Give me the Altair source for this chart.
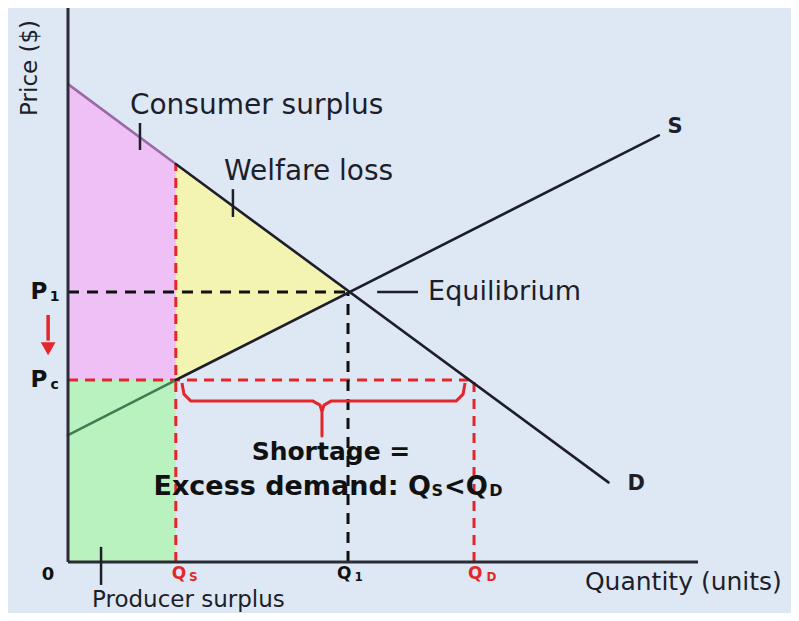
import altair as alt
import pandas as pd

# ---- values (quantity units / price units) ----
demand_q = [0.0, 3.85, 19.3]
demand_p = [17.7, 14.74, 2.95]
supply_q = [0.0, 3.85, 21.1]
supply_p = [4.7, 6.74, 15.8]
Q_S, Q_1, Q_D = 3.85, 10.0, 14.5
P_1, P_C = 10.0, 6.74
Q_D_AT_PC = 14.3

X_DOMAIN = [-2.143, 25.82]
Y_DOMAIN = [-1.889, 20.52]

BG = "#dde8f4"
DARK = "#1e1e2a"
RED = "#e3262b"
FONT = "DejaVu Sans"

xs = alt.Scale(domain=X_DOMAIN, zero=False, nice=False)
ys = alt.Scale(domain=Y_DOMAIN, zero=False, nice=False)


def X(f="x"):
    return alt.X(f, type="quantitative", scale=xs, axis=None)


def Y(f="y"):
    return alt.Y(f, type="quantitative", scale=ys, axis=None)


def X2(f="x2"):
    return alt.X2(f)


def Y2(f="y2"):
    return alt.Y2(f)


# ---- shaded areas ----
cs = pd.DataFrame({"x": [0.0, Q_S], "y": [demand_p[0], demand_p[1]], "y2": [P_C, P_C]})
wl = pd.DataFrame({"x": [Q_S, Q_1], "y": [demand_p[1], P_1], "y2": [P_C, P_1]})
ps = pd.DataFrame({"x": [0.0, Q_S], "y": [P_C, P_C], "y2": [0.0, 0.0]})


def area(df, col):
    return alt.Chart(df).mark_area(color=col, opacity=1).encode(x=X(), y=Y(), y2=Y2())


areas = [area(cs, "#efc0f6"), area(wl, "#f3f4b2"), area(ps, "#b9f2be")]

# ---- curves (segments) ----
curves = pd.DataFrame({
    "x": [demand_q[0], demand_q[1], supply_q[0], supply_q[1]],
    "y": [demand_p[0], demand_p[1], supply_p[0], supply_p[1]],
    "x2": [demand_q[1], demand_q[2], supply_q[1], supply_q[2]],
    "y2": [demand_p[1], demand_p[2], supply_p[1], supply_p[2]],
    "c": ["#9b6aa3", DARK, "#3f7d55", DARK],
})
curve_layer = alt.Chart(curves).mark_rule(strokeWidth=2.6, strokeCap="round").encode(
    x=X(), y=Y(), x2=X2(), y2=Y2(), color=alt.Color("c:N", scale=None))

# ---- axes ----
axes = pd.DataFrame({"x": [0.0, 0.0], "y": [0.0, 0.0], "x2": [0.0, 22.5], "y2": [20.6, 0.0]})
axes_layer = alt.Chart(axes).mark_rule(strokeWidth=3, color="#2b2b36").encode(
    x=X(), y=Y(), x2=X2(), y2=Y2())

# ---- dashed guides ----
bdash = pd.DataFrame({"x": [0.0, Q_1], "y": [P_1, 0.0], "x2": [Q_1, Q_1], "y2": [P_1, P_1]})
bdash_layer = alt.Chart(bdash).mark_rule(strokeWidth=3, color="#111", strokeDash=[11, 8]).encode(
    x=X(), y=Y(), x2=X2(), y2=Y2())
rdash = pd.DataFrame({"x": [0.0, Q_S, Q_D], "y": [P_C, 0.0, 0.0],
                      "x2": [Q_D_AT_PC, Q_S, Q_D], "y2": [P_C, demand_p[1], P_C]})
rdash_layer = alt.Chart(rdash).mark_rule(strokeWidth=3, color=RED, strokeDash=[10, 7]).encode(
    x=X(), y=Y(), x2=X2(), y2=Y2())

# ---- leader ticks ----
ticks = pd.DataFrame({
    "x": [2.57, 5.89, 1.18, 11.04],
    "y": [16.26, 13.81, 0.56, 10.0],
    "x2": [2.57, 5.89, 1.18, 12.5],
    "y2": [15.26, 12.78, -0.85, 10.0],
})
tick_layer = alt.Chart(ticks).mark_rule(strokeWidth=2.5, color=DARK).encode(
    x=X(), y=Y(), x2=X2(), y2=Y2())

# ---- shortage brace ----
brace_q = [4.07, 4.14, 4.39, 8.75, 9.0, 9.07, 9.07, 9.07, 9.14, 9.39, 13.86, 14.11, 14.18]
brace_p = [6.63, 6.22, 5.96, 5.96, 5.81, 5.56, 4.67, 5.56, 5.81, 5.96, 5.96, 6.22, 6.63]
brace = pd.DataFrame({"x": brace_q, "y": brace_p, "o": list(range(len(brace_q)))})
brace_layer = alt.Chart(brace).mark_line(color=RED, strokeWidth=3, strokeJoin="round").encode(
    x=X(), y=Y(), order="o:Q")

# ---- price-control arrow ----
arrow = pd.DataFrame({"x": [-0.71], "y": [9.15], "x2": [-0.71], "y2": [8.2]})
arrow_layer = alt.Chart(arrow).mark_rule(strokeWidth=3.5, color=RED).encode(
    x=X(), y=Y(), x2=X2(), y2=Y2())
head = pd.DataFrame({"x": [-0.71], "y": [7.9]})
head_layer = alt.Chart(head).mark_point(shape="triangle-down", filled=True, color=RED,
                                        size=220, opacity=1).encode(x=X(), y=Y())

# ---- texts ----
reg_labels = pd.DataFrame({
    "t": ["Consumer surplus", "Welfare loss", "Equilibrium", "Quantity (units)", "Producer surplus"],
    "x": [2.21, 5.57, 12.86, 18.46, 0.857],
    "y": [16.89, 14.44, 10.0, -0.74, -1.41],
    "s": [28, 28, 27, 25, 23],
})
reg_layer = alt.Chart(reg_labels).mark_text(align="left", baseline="middle", font=FONT,
                                            color=DARK).encode(
    x=X(), y=Y(), text="t:N", size=alt.Size("s:Q", scale=None))

price_lbl = pd.DataFrame({"t": ["Price ($)"], "x": [-1.36], "y": [18.3]})
price_layer = alt.Chart(price_lbl).mark_text(align="center", baseline="middle", font=FONT,
                                             color=DARK, angle=270, fontSize=23).encode(
    x=X(), y=Y(), text="t:N")

bold_c = pd.DataFrame({
    "t": ["S", "D", "P", "1", "P", "c", "0", "Q", "1", "Q", "S", "Q", "D", "Shortage ="],
    "x": [21.68, 20.29, -1.04, -0.48, -1.04, -0.48, -0.71, 9.86, 10.38, 3.96, 4.48, 14.54, 15.12, 9.39],
    "y": [16.11, 2.89, 10.0, 9.8, 6.74, 6.56, -0.48, -0.44, -0.55, -0.44, -0.55, -0.44, -0.55, 4.07],
    "s": [21, 21, 23, 14, 23, 14, 18, 17, 12, 17, 12, 17, 12, 25],
    "c": [DARK, DARK, "#111", "#111", "#111", "#111", "#111", "#111", "#111",
          RED, RED, RED, RED, "#111"],
})
bold_layer = alt.Chart(bold_c).mark_text(align="center", baseline="middle", font=FONT,
                                         fontWeight="bold").encode(
    x=X(), y=Y(), text="t:N", size=alt.Size("s:Q", scale=None),
    color=alt.Color("c:N", scale=None))

ex_r = pd.DataFrame({"t": ["Excess demand: Q"], "x": [12.96], "y": [2.78]})
ex_r_layer = alt.Chart(ex_r).mark_text(align="right", baseline="middle", font=FONT,
                                       fontWeight="bold", fontSize=27, color="#111").encode(
    x=X(), y=Y(), text="t:N")
ex_l = pd.DataFrame({"t": ["S", "<Q", "D"], "x": [12.98, 13.43, 15.04],
                     "y": [2.62, 2.78, 2.62], "s": [16, 26, 16]})
ex_l_layer = alt.Chart(ex_l).mark_text(align="left", baseline="middle", font=FONT,
                                       fontWeight="bold", color="#111").encode(
    x=X(), y=Y(), text="t:N", size=alt.Size("s:Q", scale=None))

chart = alt.layer(
    *areas, rdash_layer, bdash_layer, curve_layer, axes_layer, tick_layer, brace_layer,
    arrow_layer, head_layer, reg_layer, price_layer, bold_layer, ex_r_layer, ex_l_layer,
).properties(
    width=783, height=605, padding=0, autosize="none", background=BG,
).configure_view(stroke=None)

chart.save("out.html", embed_options={"renderer": "svg", "actions": False})
